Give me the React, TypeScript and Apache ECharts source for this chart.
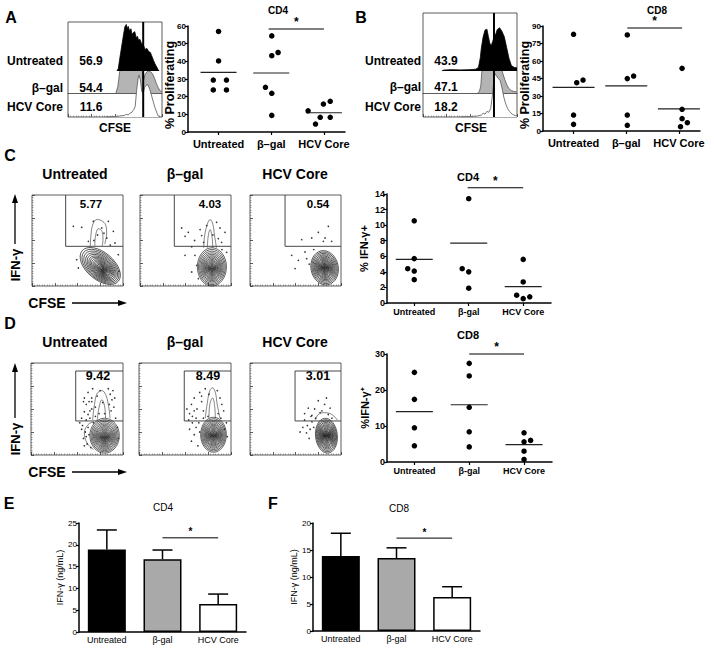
import React, { useEffect, useRef } from "react";
import * as echarts from "echarts";

const FONT = '"Liberation Sans", Arial, Helvetica, sans-serif';

// ---------- categories ----------
const GROUPS = ["Untreated", "β–gal", "HCV Core"];
const GROUPS_SM = ["Untreated", "β-gal", "HCV Core"];

// ---------- A / B : CFSE histograms ----------
const A_HIST_PCT = ["56.9", "54.4", "11.6"];
const B_HIST_PCT = ["43.9", "47.1", "18.2"];
const A_CFSE_GATE = 80;
const B_CFSE_GATE = 75.5;
// [CFSE position 0-100, relative count 0-100]
const A_HIST_UNT = [[52,0],[53.5,5],[55,25],[57,50],[59,75],[60.5,92],[62,97],[63,88],[64,93],[65.5,84],[67,88],[68,76],[69.5,80],[71,82],[72.5,70],[74,72],[75,64],[76.5,66],[78,58],[80,55],[82,45],[84,47],[86,40],[87.5,39],[89,32],[91,22],[92.5,15],[94.5,8],[96,2],[97,0]];
const A_HIST_BGAL = [[51,0],[53,12],[55,40],[57,62],[59,75],[61,80],[63,82],[65,84],[67,83],[69,85],[71,84],[73,82],[75,80],[77,76],[78.5,60],[79.5,30],[80.5,25],[82,35],[84,40],[86,42],[88,40],[90,36],[92,28],[94,18],[96,10],[98,4],[100,2]];
const A_HIST_HCV = [[40,0],[50,1],[56,2],[60,3],[62,5],[64,4],[66,7],[68,9],[70,14],[71.5,20],[73,50],[74.5,72],[75.5,79],[77,70],[78.5,48],[80,45],[81.5,56],[83.5,60],[85,61],[87,52],[88.5,43],[90.5,30],[92.5,18],[94.5,8],[96,2],[98,0]];
const B_HIST_UNT = [[20,0],[22,2],[30,3],[40,2.5],[50,3],[56,4],[59,8],[61,30],[62,50],[64,76],[66,91],[68,93],[69.5,77],[71,62],[72.5,56],[74,65],[76,77],[77.5,83],[79,92],[81.5,96],[84,88],[86.5,76],[89,52],[91.5,28],[94,12],[97,8],[100,7]];
const B_HIST_BGAL = [[58,0],[60,3],[61.5,15],[63,55],[64.5,75],[66,88],[68,90],[70,85],[72,88],[74,92],[75.5,95],[77,92],[79,85],[81,70],[83,55],[85,40],[87,28],[89,18],[91,10],[94,5],[97,3],[100,2]];
const B_HIST_HCV = [[40,0],[50,1],[58,2],[62,4],[64,8],[66,6],[68,12],[70,10],[72,18],[73.5,40],[75,70],[76.5,92],[78,88],[80,82],[82,78],[84,62],[86,42],[88,28],[90,18],[92,12],[95,6],[98,3],[100,2]];

// ---------- scatter dot plots: [group position (1..3 with jitter), value] ----------
const A_CD4_PTS = [[1.0,56.9],[1.0,40.2],[0.9,29.4],[1.15,29.4],[0.9,23.8],[1.15,23.8],[2.01,54.4],[2.13,45.0],[2.01,43.2],[1.89,25.3],[2.01,21.9],[2.01,9.4],[3.12,17.4],[2.99,15.8],[2.7,12.0],[3.12,8.3],[2.93,8.3],[2.84,4.5]];
const A_CD4_MEAN = [33.8, 33.4, 10.9];
const B_CD8_PTS = [[1.0,82.9],[1.06,41.4],[1.18,43.7],[1.0,13.7],[1.0,5.7],[2.02,82.3],[2.02,44.9],[2.14,47.1],[2.02,13.7],[2.02,4.9],[3.06,53.7],[3.06,18.6],[3.06,10.6],[3.16,7.1],[3.03,3.7]];
const B_CD8_MEAN = [37.4, 38.6, 18.9];
const C_CD4_PTS = [[1.0,10.56],[1.0,5.7],[0.88,4.4],[1.0,4.1],[1.0,3.0],[2.0,13.4],[1.88,4.4],[2.0,4.0],[2.0,1.9],[3.0,5.6],[3.0,2.7],[2.88,1.0],[3.0,0.56],[3.12,0.8]];
const C_CD4_MEAN = [5.6, 7.7, 2.1];
const D_CD8_PTS = [[1.0,24.9],[1.0,17.4],[1.0,9.5],[1.0,4.5],[2.0,27.4],[2.0,23.9],[2.0,15.2],[2.0,8.4],[2.0,4.2],[3.0,8.1],[3.0,5.6],[3.12,6.0],[3.0,3.0],[3.0,0.7]];
const D_CD8_MEAN = [14.0, 15.9, 4.8];

// significance bars [x from, x to, y]
const A_SIG = [1.95, 3.0, 58.3];
const B_SIG = [2.02, 3.06, 88.3];
const C_SIG = [1.98, 3.0, 14.8];
const D_SIG = [2.0, 3.0, 30];
const E_SIG = [1, 2, 21.6];
const F_SIG = [1, 2, 17.2];

// ---------- C / D : IFN-γ vs CFSE contour plots ----------
const C_GATE_PCT = ["5.77", "4.03", "0.54"];
const D_GATE_PCT = ["9.42", "8.49", "3.01"];
const C_GATES = [[37, 43.6], [37.7, 43.6], [38.5, 43.6]]; // [left, bottom]
const D_GATES = [[48.6, 37, 91.3], [49.2, 37, 91.3], [49.5, 37, 91.3]]; // [left, bottom, top]
const RINGS = [1, 0.92, 0.84, 0.76, 0.69, 0.62, 0.56, 0.5, 0.44, 0.39, 0.34, 0.29, 0.25, 0.21, 0.17, 0.14, 0.11, 0.08, 0.05, 0.03];
const C_CONTOURS = [
  { c: [75, 22], r: [26, 15], rot: -0.7, shift: [3, -4] },
  { c: [79, 21], r: [16, 21], rot: 0, shift: [0, -2] },
  { c: [82, 20], r: [15, 19], rot: 0.2, shift: [0, 0] },
];
const D_CONTOURS = [
  { c: [80, 21], r: [16, 19], rot: 0, shift: [0, -2] },
  { c: [81, 22], r: [14, 19], rot: 0, shift: [0, -1] },
  { c: [84, 21], r: [12, 19], rot: 0.1, shift: [0, 0] },
];
const C_TAILS = [
  [[[64,43],[65,58],[67,68],[71,73],[76,72],[81,67],[82,58],[80,46]], [[69,44],[70,56],[73,63],[77,60],[78,50],[77,44]]],
  [[[70,42],[71,55],[74,68],[77,73],[80,68],[82,55],[84,42]], [[74,42],[75,55],[77,62],[79,55],[80,42]]],
  [],
];
const D_TAILS = [
  [[[67,38],[69,55],[72,67],[77,70],[81,66],[84,55],[86,40]], [[72,38],[74,52],[77,60],[80,53],[81,40]], [[68,36],[62,33],[58,24],[61,13],[68,6]]],
  [[[72,40],[74,55],[77,70],[80,73],[83,68],[85,55],[88,40]], [[76,40],[77,55],[80,62],[82,55],[83,40]]],
  [[[72,38],[75,44],[82,46],[90,44],[96,38]]],
];
const C_DOTS = [
  [[45.4,65.6],[54.6,64.5],[67.4,71.1],[83.9,71.1],[89.4,60.1],[82.1,52.7],[61.9,49.1],[91.2,47.3],[76.6,63.7],[50.9,19.8],[94.9,34.4],[95.6,16.1],[49.1,28.9],[72,56],[79,58],[86,45],[68,50]],
  [[45.8,63.7],[49.5,54.6],[53.1,59.0],[56.8,43.0],[60.4,33.7],[62.3,22.7],[56.8,15.4],[93.4,59.0],[89.7,48.0],[95.2,37.0],[67.8,55.4],[73.3,66.3],[84.2,70.0],[87.9,63.7],[64.1,8.1],[49.5,33.7],[70,48],[86,52],[66,62],[90,40],[60,50],[80,56]],
  [[56.8,50.9],[67.8,52.7],[75.1,59.0],[82.4,52.7],[86.1,65.6],[80.6,49.1],[89.7,49.1],[45.8,33.7],[49.5,19.1],[53.1,28.2],[60.4,37.4],[62.3,30.0],[70,40],[65,24]],
];
const D_DOTS = [
  [[58,62],[60,55],[62,68],[64,48],[66,58],[67,72],[70,52],[72,64],[74,45],[75,70],[78,57],[84,72],[86,66],[88,60],[90,52],[87,48],[62,44],[58,47],[55,40],[60,38],[56,32],[59,25],[62,30],[57,18],[61,12],[63,22],[65,8],[55,28],[68,35],[92,40],[94,30],[95,18],[70,42],[80,45],[66,62],[85,55],[64,40],[60,20],[58,10],[66,50],[89,70],[91,62],[57,58],[63,58],[53,35]],
  [[55,45],[57,55],[60,62],[63,50],[66,68],[68,58],[70,48],[72,72],[76,66],[85,70],[88,62],[90,55],[92,48],[86,45],[62,40],[58,35],[55,28],[60,22],[62,30],[57,15],[64,10],[66,25],[54,38],[95,35],[96,20],[70,40],[60,48],[75,42],[52,50],[58,42],[65,35],[68,64],[89,40],[93,28]],
  [[64,51],[68,43],[75,59],[79,48],[84,62],[82,55],[71,50],[60,45],[88,51],[60,38],[63,32],[66,28],[62,24],[68,36],[70,30],[58,30],[65,18],[55,25],[67,42],[72,40],[86,44],[77,46],[90,40]],
];

// ---------- E / F : IFN-γ ELISA bars ----------
const E_MEAN = [18.9, 16.7, 6.4];
const E_ERR_TOP = [23.4, 18.8, 8.7];
const F_MEAN = [13.9, 13.5, 6.3];
const F_ERR_TOP = [18.1, 15.4, 8.2];
const BAR_COLORS = ["#000000", "#a9a9a9", "#ffffff"];

// ================= option building =================
function grid(left: number, top: number, width: number, height: number, show = false) {
  return { left, top, width, height, show, borderColor: "#333", borderWidth: 0.8, backgroundColor: "transparent" };
}
const hidden = (gi: number) => ({ gridIndex: gi, type: "value", min: 0, max: 100, show: false });
const tickAxis = (gi: number, withTicks = true) => ({
  gridIndex: gi, type: "value", min: 0, max: 100, interval: 25,
  axisLine: { show: false },
  axisTick: { show: withTicks, inside: true, length: 3, lineStyle: { color: "#333", width: 0.8 } },
  minorTick: { show: withTicks, splitNumber: 9, length: 1.5, lineStyle: { color: "#555", width: 0.5 } },
  axisLabel: { show: false }, splitLine: { show: false }, minorSplitLine: { show: false },
});
const baseAxis = (gi: number) => ({
  gridIndex: gi, type: "value", min: 0, max: 100,
  axisLine: { show: true, onZero: false, lineStyle: { color: "#333", width: 0.8 } },
  axisTick: { show: false }, axisLabel: { show: false }, splitLine: { show: false },
});
const scatterX = (gi: number, labels: string[], min: number, max: number, fontSize: number, margin: number) => ({
  gridIndex: gi, type: "value", min, max,
  axisLine: { show: true, onZero: false, lineStyle: { color: "#000", width: 1.5 } },
  axisTick: { show: true, customValues: [1, 2, 3], length: 3, lineStyle: { color: "#000", width: 1.2 } },
  axisLabel: { customValues: [1, 2, 3], formatter: (v: number) => labels[Math.round(v) - 1] || "", fontSize, fontWeight: "bold", fontFamily: FONT, color: "#000", margin },
  splitLine: { show: false },
});
const valY = (gi: number, max: number, interval: number, fontSize: number, weight: string, name: string, nameSize: number, nameGap: number) => ({
  gridIndex: gi, type: "value", min: 0, max, interval,
  axisLine: { show: true, lineStyle: { color: "#000", width: 1.5 } },
  axisTick: { show: true, length: 3, lineStyle: { color: "#000", width: 1.2 } },
  axisLabel: { fontSize, fontWeight: weight, fontFamily: FONT, color: "#000", margin: 2 },
  splitLine: { show: false },
  name, nameLocation: "middle", nameGap,
  nameTextStyle: { fontSize: nameSize, fontWeight: weight, fontFamily: FONT, color: "#000" },
});
const barX = (gi: number) => ({
  gridIndex: gi, type: "category", data: GROUPS_SM,
  axisLine: { show: true, lineStyle: { color: "#000", width: 1.5 } },
  axisTick: { show: false },
  axisLabel: { fontSize: 9, fontFamily: FONT, color: "#000", margin: 3 },
});

const histSeries = (gi: number, data: number[][], fill: string | null, stroke: string, z: number) => ({
  type: "line", xAxisIndex: gi, yAxisIndex: gi, data, symbol: "none", silent: true, z,
  lineStyle: { color: stroke, width: 0.8 },
  areaStyle: fill ? { color: fill, opacity: 1 } : undefined,
});
const vline = (gi: number, x: number) => ({
  type: "line", xAxisIndex: gi, yAxisIndex: gi, data: [[x, 0], [x, 100]], symbol: "none", silent: true, z: 10,
  lineStyle: { color: "#000", width: 2 },
});
const dotSeries = (gi: number, data: number[][], size: number, color = "#000") => ({
  type: "scatter", xAxisIndex: gi, yAxisIndex: gi, data, symbolSize: size, silent: true, z: 4,
  itemStyle: { color, opacity: 1 },
});
const meanSeries = (gi: number, means: number[], hw: number) => ({
  type: "custom", coordinateSystem: "cartesian2d", xAxisIndex: gi, yAxisIndex: gi, silent: true, z: 3,
  data: means.map((m, i) => [i + 1, m]), encode: { x: 0, y: 1 },
  renderItem: (_p: any, api: any) => {
    const p = api.coord([api.value(0), api.value(1)]);
    return { type: "line", shape: { x1: p[0] - hw, y1: p[1], x2: p[0] + hw, y2: p[1] }, style: { stroke: "#222", lineWidth: 1.2 } };
  },
});
const sigSeries = (gi: number, sig: number[], fontSize: number, lw = 1.2) => ({
  type: "custom", coordinateSystem: "cartesian2d", xAxisIndex: gi, yAxisIndex: gi, silent: true, clip: false, z: 5,
  data: [sig], encode: { x: [0, 1], y: 2 },
  renderItem: (_p: any, api: any) => {
    const y = api.value(2);
    const p1 = api.coord([api.value(0), y]);
    const p2 = api.coord([api.value(1), y]);
    return {
      type: "group", children: [
        { type: "line", shape: { x1: p1[0], y1: p1[1], x2: p2[0], y2: p2[1] }, style: { stroke: "#000", lineWidth: lw } },
        { type: "text", x: (p1[0] + p2[0]) / 2, y: p1[1] - 1, style: { text: "*", fontSize, fontWeight: "bold", fontFamily: FONT, fill: "#000", align: "center", verticalAlign: "bottom" } },
      ],
    };
  },
});
const errSeries = (gi: number, means: number[], tops: number[], capHw: number) => ({
  type: "custom", coordinateSystem: "cartesian2d", xAxisIndex: gi, yAxisIndex: gi, silent: true, z: 1,
  data: means.map((m, i) => [i, m, tops[i]]), encode: { x: 0, y: [1, 2] },
  renderItem: (_p: any, api: any) => {
    const p1 = api.coord([api.value(0), api.value(1)]);
    const p2 = api.coord([api.value(0), api.value(2)]);
    return {
      type: "group", children: [
        { type: "line", shape: { x1: p1[0], y1: p1[1], x2: p2[0], y2: p2[1] }, style: { stroke: "#000", lineWidth: 1.5 } },
        { type: "line", shape: { x1: p2[0] - capHw, y1: p2[1], x2: p2[0] + capHw, y2: p2[1] }, style: { stroke: "#000", lineWidth: 1.5 } },
      ],
    };
  },
});
const barSeries = (gi: number, means: number[]) => ({
  type: "bar", xAxisIndex: gi, yAxisIndex: gi, barWidth: 38, silent: true, z: 2,
  itemStyle: { borderColor: "#000", borderWidth: 1.5 },
  data: means.map((v, i) => ({ value: v, itemStyle: { color: BAR_COLORS[i], borderColor: "#000", borderWidth: 1.5 } })),
});
const contourSeries = (gi: number, spec: any) => ({
  type: "custom", coordinateSystem: "cartesian2d", xAxisIndex: gi, yAxisIndex: gi, silent: true, z: 2,
  data: RINGS.map((s) => [spec.c[0] + (1 - s) * spec.shift[0], spec.c[1] + (1 - s) * spec.shift[1], s]),
  encode: { x: 0, y: 1 },
  renderItem: (_p: any, api: any) => {
    const p = api.coord([api.value(0), api.value(1)]);
    const s = api.value(2);
    const sz = api.size([spec.r[0] * s, spec.r[1] * s]);
    return {
      type: "ellipse", x: p[0], y: p[1], rotation: spec.rot,
      shape: { cx: 0, cy: 0, rx: sz[0], ry: sz[1] },
      style: { fill: "none", stroke: "#111", lineWidth: 0.65 },
    };
  },
});
const polySeries = (gi: number, data: number[][], color = "#333", width = 0.8, smooth: number | boolean = false) => ({
  type: "line", xAxisIndex: gi, yAxisIndex: gi, data, symbol: "none", silent: true, z: 3, smooth,
  lineStyle: { color, width },
});

const T = (text: string, x: number, y: number, fontSize: number, fontWeight = "bold", align = "center", rotation = 0) => ({
  type: "text", x, y, rotation, silent: true,
  style: { text, fontSize, fontWeight, fontFamily: FONT, fill: "#000", align, verticalAlign: "middle", textAlign: align, textVerticalAlign: "middle" },
});
const L = (x1: number, y1: number, x2: number, y2: number) => ({
  type: "line", silent: true, shape: { x1, y1, x2, y2 }, style: { stroke: "#000", lineWidth: 1.3 },
});
const P = (pts: number[][]) => ({ type: "polygon", silent: true, shape: { points: pts }, style: { fill: "#000" } });

function buildOption() {
  const grids = [
    grid(68, 22, 94, 95, true),   // 0 A box
    grid(68, 23, 94, 48),         // 1 A untreated
    grid(68, 40, 94, 53),         // 2 A β-gal
    grid(68, 64, 94, 53),         // 3 A HCV
    grid(423, 13, 94, 104, true), // 4 B box
    grid(423, 26, 94, 45),        // 5 B untreated
    grid(423, 45, 94, 48),        // 6 B β-gal
    grid(423, 70, 94, 47),        // 7 B HCV
    grid(188, 26, 157, 106),      // 8 A dots
    grid(543, 26, 157, 105),      // 9 B dots
    grid(32, 195, 91, 91, true),  // 10 C1
    grid(140, 195, 91, 91, true), // 11 C2
    grid(250, 195, 91, 91, true), // 12 C3
    grid(387, 194, 164, 109),     // 13 C dots
    grid(31, 363, 92, 92, true),  // 14 D1
    grid(139, 363, 92, 92, true), // 15 D2
    grid(250, 363, 91, 92, true), // 16 D3
    grid(387, 354, 165, 108),     // 17 D dots
    grid(79, 523, 167, 109),      // 18 E
    grid(313, 523, 167, 108),     // 19 F
  ];

  const xAxis: any[] = [
    tickAxis(0), hidden(1), baseAxis(2), hidden(3),
    tickAxis(4), hidden(5), baseAxis(6), hidden(7),
    scatterX(8, GROUPS, 0.42, 3.4, 11, 6),
    scatterX(9, GROUPS, 0.42, 3.4, 11, 6),
    tickAxis(10), tickAxis(11), tickAxis(12),
    scatterX(13, GROUPS_SM, 0.5, 3.51, 9, 4),
    tickAxis(14), tickAxis(15), tickAxis(16),
    scatterX(17, GROUPS_SM, 0.5, 3.51, 9, 4),
    barX(18), barX(19),
  ];
  const yAxis: any[] = [
    hidden(0), hidden(1), hidden(2), hidden(3),
    hidden(4), hidden(5), hidden(6), hidden(7),
    valY(8, 60, 10, 8, "bold", "", 12, 14),
    valY(9, 90, 15, 8, "bold", "", 12, 14),
    tickAxis(10), tickAxis(11), tickAxis(12),
    valY(13, 14, 2, 9, "bold", "% IFN-γ+", 11, 18),
    tickAxis(14), tickAxis(15), tickAxis(16),
    valY(17, 30, 10, 9, "bold", "%IFN-γ⁺", 11, 17),
    valY(18, 25, 5, 8, "normal", "IFN-γ (ng/mL)", 9, 14),
    valY(19, 20, 5, 8, "normal", "IFN-γ (ng/mL)", 9, 14),
  ];

  const series: any[] = [
    // A histograms
    histSeries(2, A_HIST_BGAL, "#b4b4b4", "#555", 2),
    histSeries(3, A_HIST_HCV, "#ffffff", "#555", 3),
    histSeries(1, A_HIST_UNT, "#000", "#000", 4),
    vline(0, A_CFSE_GATE),
    // B histograms
    histSeries(6, B_HIST_BGAL, "#b4b4b4", "#555", 2),
    histSeries(7, B_HIST_HCV, "#ffffff", "#555", 3),
    histSeries(5, B_HIST_UNT, "#000", "#000", 4),
    vline(4, B_CFSE_GATE),
    // A / B dots
    dotSeries(8, A_CD4_PTS, 5.5), meanSeries(8, A_CD4_MEAN, 18), sigSeries(8, A_SIG, 12),
    dotSeries(9, B_CD8_PTS, 5.5), meanSeries(9, B_CD8_MEAN, 21), sigSeries(9, B_SIG, 12),
    // C / D dots
    dotSeries(13, C_CD4_PTS, 5.5), meanSeries(13, C_CD4_MEAN, 18.5), sigSeries(13, C_SIG, 12),
    dotSeries(17, D_CD8_PTS, 5.5), meanSeries(17, D_CD8_MEAN, 18.5), sigSeries(17, D_SIG, 12),
    // E / F bars
    barSeries(18, E_MEAN), errSeries(18, E_MEAN, E_ERR_TOP, 10), sigSeries(18, E_SIG, 10, 1),
    barSeries(19, F_MEAN), errSeries(19, F_MEAN, F_ERR_TOP, 10), sigSeries(19, F_SIG, 10, 1),
  ];

  // C / D contour plots
  [0, 1, 2].forEach((k) => {
    const gc = 10 + k;
    const [cx, cy] = C_GATES[k];
    series.push(polySeries(gc, [[cx, 100], [cx, cy], [100, cy]], "#333", 0.9));
    series.push(contourSeries(gc, C_CONTOURS[k]));
    C_TAILS[k].forEach((t) => series.push(polySeries(gc, t, "#333", 0.6, 0.4)));
    series.push(dotSeries(gc, C_DOTS[k], 1.6, "#333"));

    const gd = 14 + k;
    const [dx, db, dt] = D_GATES[k];
    series.push(polySeries(gd, [[100, dt], [dx, dt], [dx, db], [100, db]], "#333", 0.9));
    series.push(contourSeries(gd, D_CONTOURS[k]));
    D_TAILS[k].forEach((t) => series.push(polySeries(gd, t, "#333", 0.6, 0.4)));
    series.push(dotSeries(gd, D_DOTS[k], 1.6, "#333"));
  });

  const graphic: any[] = [
    // panel letters
    T("A", 11, 17, 16), T("B", 361, 17, 16), T("C", 10, 155, 16),
    T("D", 10, 323, 16), T("E", 9, 503, 16), T("F", 273, 503, 16),
    // A histogram labels
    T(GROUPS[0], 63, 61, 12, "bold", "right"), T(GROUPS[1], 63, 88, 12, "bold", "right"), T(GROUPS[2], 63, 107, 12, "bold", "right"),
    T(A_HIST_PCT[0], 91, 61, 12), T(A_HIST_PCT[1], 91, 88, 12), T(A_HIST_PCT[2], 91, 107, 12),
    T("CFSE", 115, 128, 12),
    // B histogram labels
    T(GROUPS[0], 421, 61, 12, "bold", "right"), T(GROUPS[1], 421, 87, 12, "bold", "right"), T(GROUPS[2], 421, 107, 12, "bold", "right"),
    T(B_HIST_PCT[0], 446, 61, 12), T(B_HIST_PCT[1], 446, 87, 12), T(B_HIST_PCT[2], 446, 107, 12),
    T("CFSE", 471, 128, 12),
    // dot-plot y names A / B
    T("% Proliferating", 170, 85, 12.5, "bold", "center", Math.PI / 2),
    T("% Proliferating", 525, 85, 12.5, "bold", "center", Math.PI / 2),
    // dot-plot titles
    T("CD4", 278, 10, 10), T("CD8", 657, 10, 10),
    T("CD4", 468, 177, 11), T("CD8", 468, 335, 11),
    T("CD4", 163, 507, 10, "normal"), T("CD8", 399, 508, 10, "normal"),
    // C / D headers
    T(GROUPS[0], 75, 174, 14), T(GROUPS[1], 185, 174, 14), T(GROUPS[2], 295, 174, 14),
    T(GROUPS[0], 75, 342, 14), T(GROUPS[1], 185, 342, 14), T(GROUPS[2], 295, 342, 14),
    // gate percentages
    T(C_GATE_PCT[0], 91, 204, 11.5), T(C_GATE_PCT[1], 210, 204, 11.5), T(C_GATE_PCT[2], 318, 204, 11.5),
    T(D_GATE_PCT[0], 98, 376, 12.5), T(D_GATE_PCT[1], 208, 376, 12.5), T(D_GATE_PCT[2], 318, 376, 12.5),
    // axis arrows C
    T("IFN-γ", 15, 265, 13, "bold", "center", Math.PI / 2),
    L(15, 244, 15, 200), P([[15, 194], [12, 203], [18, 203]]),
    T("CFSE", 47, 303, 14),
    L(72, 303, 121, 303), P([[127, 303], [118, 300], [118, 306]]),
    // axis arrows D
    T("IFN-γ", 15, 439, 13, "bold", "center", Math.PI / 2),
    L(15, 418, 15, 369), P([[15, 363], [12, 372], [18, 372]]),
    T("CFSE", 47, 472, 14),
    L(72, 472, 121, 472), P([[127, 472], [118, 469], [118, 475]]),
  ];

  return {
    animation: false,
    backgroundColor: "#ffffff",
    textStyle: { fontFamily: FONT },
    grid: grids,
    xAxis,
    yAxis,
    series,
    graphic,
  };
}

export default function App() {
  const ref = useRef<HTMLDivElement>(null);
  useEffect(() => {
    if (!ref.current) return;
    const chart = echarts.init(ref.current, undefined, { renderer: "svg" });
    chart.setOption(buildOption() as any);
    return () => chart.dispose();
  }, []);
  return (
    <div
      ref={ref}
      style={{ position: "fixed", left: 0, top: 0, width: 714, height: 649, background: "#fff" }}
    />
  );
}
